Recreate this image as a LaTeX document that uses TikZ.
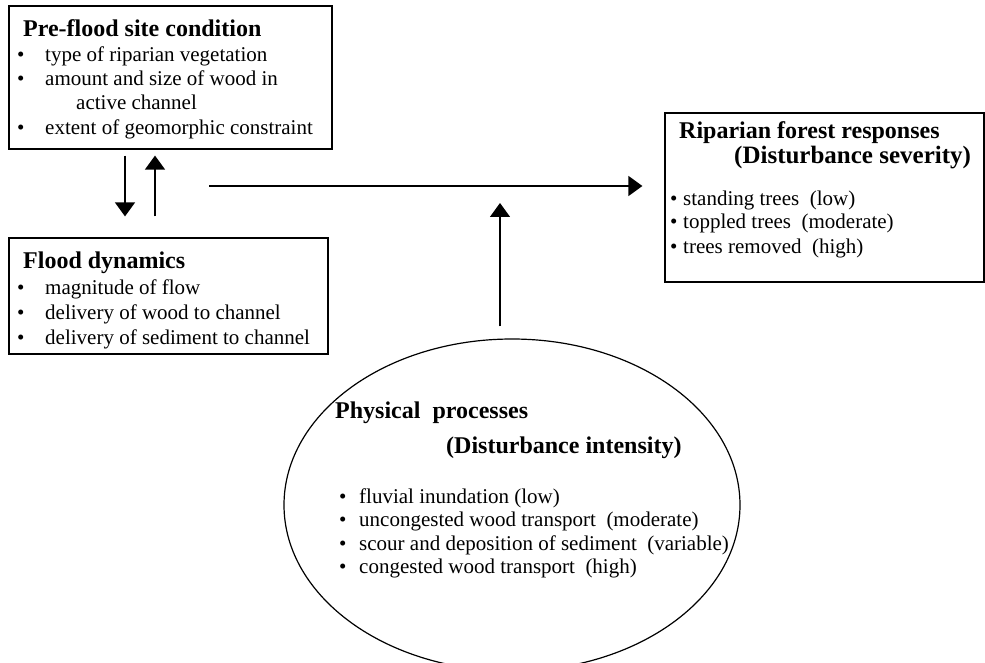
\documentclass[tikz,border=0pt]{standalone}
\usepackage{fontspec}
\setmainfont{Liberation Serif}
\usetikzlibrary{arrows.meta,shapes.geometric}

\tikzset{
  box/.style={draw, line width=1.2pt, inner sep=0},
  arr/.style={-{Triangle[length=14pt,width=20pt]}, line width=1.3pt},
  head/.style={font=\bfseries\fontsize{24}{28}\selectfont, anchor=base west, inner sep=0},
  item/.style={font=\fontsize{21}{24}\selectfont, anchor=base west, inner sep=0},
  dot/.style={font=\fontsize{21}{24}\selectfont, anchor=base west, inner sep=0}
}

\begin{document}
\begin{tikzpicture}[x=1pt,y=-1pt]
\useasboundingbox (0,0) rectangle (985,663);

% Pre-flood box
\node[box, minimum width=323pt, minimum height=143pt] (pre) at (170.5,77.5) {};
\node[head] (preh) at (23,37) {Pre-flood site condition};
\node[dot] (pd1) at (17,62) {\textbullet};
\node[item] (pt1) at (45,62) {type of riparian vegetation};
\node[dot] (pd2) at (17,86) {\textbullet};
\node[item] (pt2) at (45,86) {amount and size of wood in};
\node[item] (pt3) at (76,110) {active channel};
\node[dot] (pd4) at (17,135) {\textbullet};
\node[item] (pt4) at (45,135) {extent of geomorphic constraint};

% Flood box
\node[box, minimum width=319pt, minimum height=116pt] (flood) at (168.5,296) {};
\node[head] (floodh) at (23,268) {Flood dynamics};
\node[dot] (fd1) at (17,294) {\textbullet};
\node[item] (ft1) at (45,294) {magnitude of flow};
\node[dot] (fd2) at (17,319) {\textbullet};
\node[item] (ft2) at (45,319) {delivery of wood to channel};
\node[dot] (fd3) at (17,344) {\textbullet};
\node[item] (ft3) at (45,344) {delivery of sediment to channel};

% Response box
\node[box, minimum width=319pt, minimum height=169pt] (resp) at (824.5,197.5) {};
\node[head] (resph1) at (679,139) {Riparian forest responses};
\node[head, font=\bfseries\fontsize{25}{28}\selectfont] (resph2) at (734,164) {(Disturbance severity)};
\node[dot] (rd1) at (670,206) {\textbullet};
\node[item] (rt1) at (683,206) {standing trees\ \ (low)};
\node[dot] (rd2) at (670,229) {\textbullet};
\node[item] (rt2) at (683,229) {toppled trees\ \ (moderate)};
\node[dot] (rd3) at (670,253) {\textbullet};
\node[item] (rt3) at (683,253) {trees removed\ \ (high)};

% Process ellipse
\node[draw, ellipse, line width=1.2pt, minimum width=456pt, minimum height=332pt, inner sep=0] (proc) at (512,505) {};
\node[head] (proch1) at (335,418) {Physical\ \ processes};
\node[head] (proch2) at (446,453) {(Disturbance intensity)};
\node[dot] (cd1) at (339,503) {\textbullet};
\node[item] (ct1) at (359,503) {fluvial inundation (low)};
\node[dot] (cd2) at (339,526) {\textbullet};
\node[item] (ct2) at (359,526) {uncongested wood transport\ \ (moderate)};
\node[dot] (cd3) at (339,550) {\textbullet};
\node[item] (ct3) at (359,550) {scour and deposition of sediment\ \ (variable)};
\node[dot] (cd4) at (339,573) {\textbullet};
\node[item] (ct4) at (359,573) {congested wood transport\ \ (high)};

% Arrows
\coordinate (dn) at (125,0);
\coordinate (up) at (155,0);
\coordinate (hstart) at (209,186);
\coordinate (vx) at (500,0);
\draw[arr, shorten <=6pt, shorten >=21pt] (pre.south -| dn) -- (flood.north -| dn);
\draw[arr, shorten <=21pt, shorten >=6pt] (flood.north -| up) -- (pre.south -| up);
\draw[arr, shorten >=22pt] (hstart) -- (hstart -| resp.west);
\draw[arr, shorten <=12pt, shorten >=17pt] (vx |- proc.north) -- (vx |- hstart);
\end{tikzpicture}
\end{document}
